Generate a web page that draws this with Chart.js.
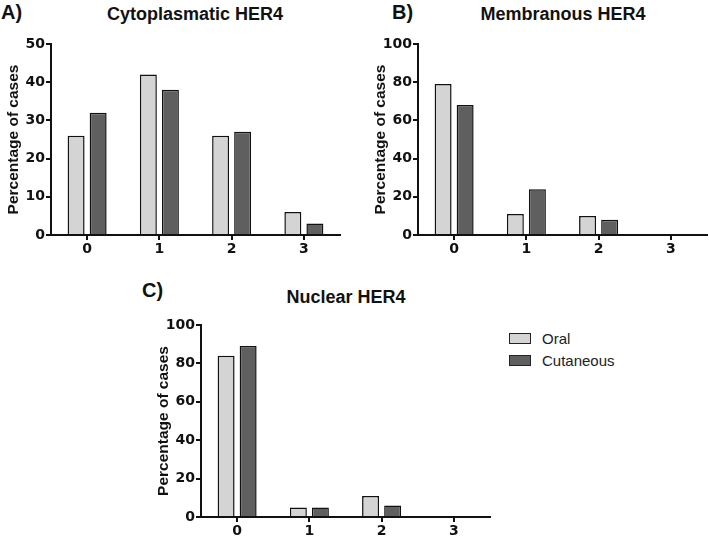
<!DOCTYPE html>
<html lang="en">
<head>
  <meta charset="UTF-8">
  <title>HER4 expression</title>
  <script src="https://cdn.jsdelivr.net/npm/chart.js"></script>
  <style>
    body { margin: 0; background: #fff; font-family: "Liberation Sans", Arial, sans-serif; }
    #page { position: relative; width: 709px; height: 538px; overflow: hidden; background: #fff; }
    .panel { position: absolute; }
    .letter { position: absolute; font: bold 20px "Liberation Sans", Arial, sans-serif; color: #111; }
    .title { position: absolute; font: bold 18px "Liberation Sans", Arial, sans-serif; color: #111; text-align: center; }
    #legend { position: absolute; left: 509px; top: 327px; font: 15px "Liberation Sans", Arial, sans-serif; color: #222; }
    #legend div { height: 22px; display: flex; align-items: center; }
    #legend span.box { display: inline-block; width: 20px; height: 9px; border: 1px solid #222; margin-right: 11px; }
  </style>
</head>
<body>
<div id="page">
  <div class="letter" style="left:1px;top:1px">A)</div>
  <div class="title" style="left:95px;top:4px;width:200px">Cytoplasmatic HER4</div>
  <div class="panel" style="left:0px;top:30px;width:350px;height:235px"><canvas id="chartA"></canvas></div>

  <div class="letter" style="left:392px;top:1px">B)</div>
  <div class="title" style="left:463px;top:4px;width:200px">Membranous HER4</div>
  <div class="panel" style="left:367px;top:30px;width:342px;height:235px"><canvas id="chartB"></canvas></div>

  <div class="letter" style="left:142px;top:279px">C)</div>
  <div class="title" style="left:246px;top:287px;width:200px">Nuclear HER4</div>
  <div class="panel" style="left:150px;top:311px;width:350px;height:227px"><canvas id="chartC"></canvas></div>

  <div id="legend"></div>
</div>

<script>
  // data
  const categories = ["0", "1", "2", "3"];
  const seriesNames = ["Oral", "Cutaneous"];
  const seriesColors = ["#d4d4d4", "#5f5f5f"];

  const cytoOral = [26, 42, 26, 6];
  const cytoCutaneous = [32, 38, 27, 3];

  const membOral = [79, 11, 10, 0];
  const membCutaneous = [68, 24, 8, 0];

  const nucOral = [84, 5, 11, 0];
  const nucCutaneous = [89, 5, 6, 0];

  const tickFont = { family: "DejaVu Sans", size: 14, weight: "bold" };

  function makeChart(id, oral, cutaneous, yMax, yStep, padRight, xHeight) {
    return new Chart(document.getElementById(id), {
      type: "bar",
      data: {
        labels: categories,
        datasets: [
          { label: seriesNames[0], data: oral, backgroundColor: seriesColors[0], borderColor: "#111", borderWidth: 1.5 },
          { label: seriesNames[1], data: cutaneous, backgroundColor: seriesColors[1], borderColor: "#111", borderWidth: 1.5 }
        ]
      },
      options: {
        responsive: true,
        maintainAspectRatio: false,
        animation: false,
        categoryPercentage: 0.61,
        barPercentage: 0.77,
        layout: { padding: { left: 0, right: padRight, top: 14, bottom: 0 } },
        plugins: { legend: { display: false }, tooltip: { enabled: false } },
        scales: {
          x: {
            grid: { display: true, drawOnChartArea: false, drawTicks: true, tickLength: 5, offset: false, color: "#111", lineWidth: 2 },
            border: { display: true, color: "#111", width: 2 },
            ticks: { color: "#111", font: tickFont, padding: 1 },
            afterFit: s => { s.height = xHeight; }
          },
          y: {
            min: 0,
            max: yMax,
            ticks: { stepSize: yStep, color: "#111", font: tickFont, padding: 1 },
            grid: { display: true, drawOnChartArea: false, drawTicks: true, tickLength: 5, color: "#111", lineWidth: 2 },
            border: { display: true, color: "#111", width: 2 },
            title: { display: true, text: "Percentage of cases", color: "#111", font: { family: "Liberation Sans", size: 15.5, weight: "bold" }, padding: { top: 4, bottom: 0 } },
            afterFit: s => { s.width = 51; }
          }
        }
      }
    });
  }

  makeChart("chartA", cytoOral, cytoCutaneous, 50, 10, 10, 30);
  makeChart("chartB", membOral, membCutaneous, 100, 20, 2, 30);
  makeChart("chartC", nucOral, nucCutaneous, 100, 20, 10, 21);

  // legend built from the series
  const legend = document.getElementById("legend");
  seriesNames.forEach((name, i) => {
    const row = document.createElement("div");
    row.innerHTML = '<span class="box" style="background:' + seriesColors[i] + '"></span>' + name;
    legend.appendChild(row);
  });
</script>
</body>
</html>
